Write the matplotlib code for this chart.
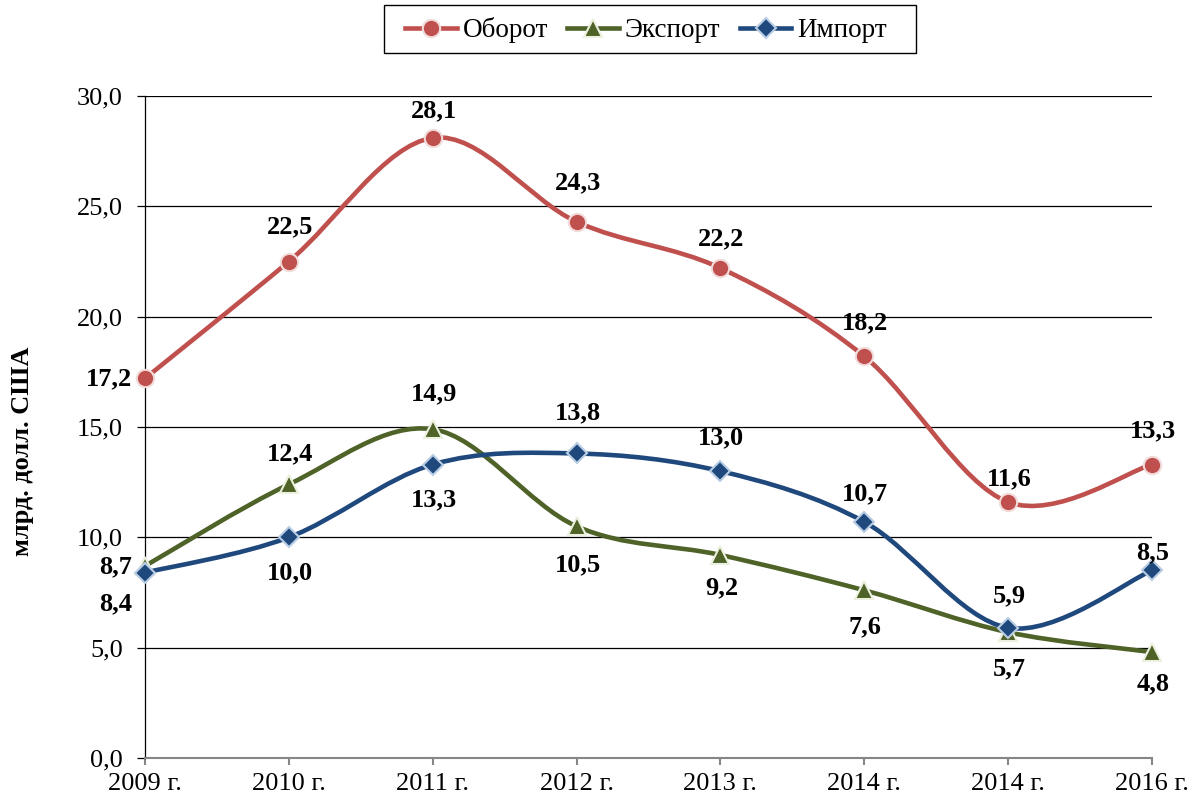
import matplotlib
matplotlib.use("Agg")
import matplotlib.pyplot as plt
from matplotlib.path import Path
from matplotlib.patches import PathPatch, Rectangle
from matplotlib.lines import Line2D

years = ["2009 г.", "2010 г.", "2011 г.", "2012 г.", "2013 г.", "2014 г.", "2014 г.", "2016 г."]
oborot = [17.2, 22.5, 28.1, 24.3, 22.2, 18.2, 11.6, 13.3]
eksport = [8.7, 12.4, 14.9, 10.5, 9.2, 7.6, 5.7, 4.8]
import_ = [8.4, 10.0, 13.3, 13.8, 13.0, 10.7, 5.9, 8.5]

# label placement: 'c' centered over/under point, 'l' left of point
pos_oborot = ["l", "c", "c", "c", "c", "c", "c", "c"]
pos_eksport = ["l", "c", "c", "c", "c", "c", "c", "c"]
pos_import = ["l", "c", "c", "c", "c", "c", "c", "c"]
# vertical label offsets in pixels (positive = downward)
dy_oborot = [0, -35, -27, -39, -29, -34, -23, -34]
dy_eksport = [1, -31, -35, 39, 33, 37, 37, 32]
dy_import = [31, 35, 35, -41, -33, -28, -32, -18]

plt.rcParams['font.family'] = ['Liberation Serif', 'DejaVu Serif']

fig = plt.figure(figsize=(12, 8.07), dpi=100)
ax = fig.add_axes([145/1200, 1-758/807, (1152-145)/1200, (758-96)/807])

x = list(range(len(years)))


def smooth_path(xs, ys):
    n = len(xs)
    verts = [(xs[0], ys[0])]
    codes = [Path.MOVETO]
    for i in range(n - 1):
        p0 = (xs[max(i-1, 0)], ys[max(i-1, 0)])
        p1 = (xs[i], ys[i])
        p2 = (xs[i+1], ys[i+1])
        p3 = (xs[min(i+2, n-1)], ys[min(i+2, n-1)])
        c1 = (p1[0] + (p2[0]-p0[0])/6, p1[1] + (p2[1]-p0[1])/6)
        c2 = (p2[0] - (p3[0]-p1[0])/6, p2[1] - (p3[1]-p1[1])/6)
        verts += [c1, c2, p2]
        codes += [Path.CURVE4]*3
    return Path(verts, codes)


series = [
    ("Оборот", oborot, "#C0504D", "o", 12.5, "#F2DCDB", pos_oborot, dy_oborot),
    ("Экспорт", eksport, "#4F6228", "^", 12.5, "#EBF1DE", pos_eksport, dy_eksport),
    ("Импорт", import_, "#1F497D", "D", 10.5, "#B9CDE5", pos_import, dy_import),
]

FS = 19
PX = 72 / 100  # points per pixel
handles = []
for name, vals, col, mk, ms, ec, poss, dys in series:
    patch = PathPatch(smooth_path(x, vals), fill=False, edgecolor=col, lw=3.3,
                      capstyle='round', joinstyle='round', zorder=3)
    ax.add_patch(patch)
    ax.plot(x, vals, linestyle='none', marker=mk, markersize=ms, color=col,
            markeredgecolor=ec, markeredgewidth=1.5, zorder=4, clip_on=False)
    handles.append(Line2D([], [], color=col, lw=3.3, marker=mk, markersize=ms,
                          markeredgecolor=ec, markeredgewidth=1.5))
    for xi, v, p, dy in zip(x, vals, poss, dys):
        lab = f"{v:.1f}".replace(".", ",")
        if p == "l":
            off, ha = (-13 * PX, -dy * PX), "right"
        else:
            off, ha = (1 * PX, -dy * PX), "center"
        ax.annotate(lab, (xi, v), xytext=off, textcoords="offset points",
                    ha=ha, va="center", fontsize=FS, fontweight="bold", zorder=5)

ax.set_xlim(0, 7)
ax.set_ylim(0, 30)
yt = [0, 5, 10, 15, 20, 25, 30]
ax.set_yticks(yt)
ax.set_yticklabels([f"{v:.1f}".replace(".", ",") for v in yt], fontsize=FS)
ax.set_xticks(x)
ax.set_xticklabels(years, fontsize=FS)
ax.grid(axis='y', color='black', lw=0.9)
ax.set_axisbelow(True)
for s in ["top", "right"]:
    ax.spines[s].set_visible(False)
ax.spines["left"].set_color("black")
ax.spines["left"].set_linewidth(0.9)
ax.spines["bottom"].set_color("#868686")
ax.spines["bottom"].set_linewidth(1.5)
ax.tick_params(axis='y', length=6, width=0.9, color='black', pad=10)
ax.tick_params(axis='x', length=5, width=1.5, color='#868686', pad=6)
fig.text(23/1200, 1-451/807, "млрд. долл. США", rotation=90, fontsize=FS,
         fontweight="bold", ha="center", va="center")

# legend frame drawn as figure rectangle
fig.add_artist(Rectangle((384/1200, 1-53/807), (916-384)/1200, 48/807,
                         transform=fig.transFigure, fill=False,
                         edgecolor="black", lw=1.0))
leg = fig.legend(handles, [s[0] for s in series], loc="center",
                 bbox_to_anchor=(646/1200, 1-30/807), ncol=3, fontsize=19.5,
                 frameon=False, handlelength=1.9, handletextpad=0.22,
                 columnspacing=0.72, borderpad=0, borderaxespad=0)

fig.savefig("out.png", dpi=100)
